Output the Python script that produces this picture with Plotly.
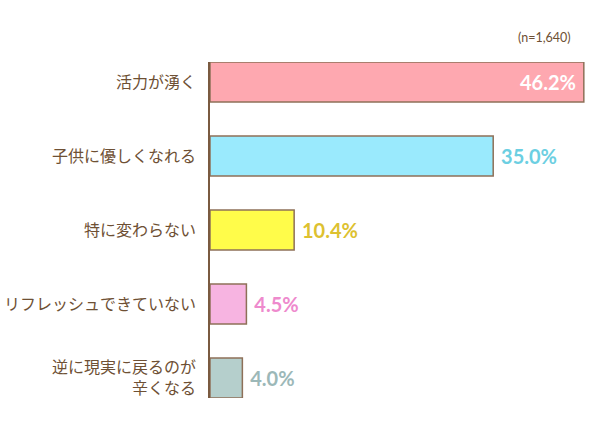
import plotly.graph_objects as go

categories = ["活力が湧く", "子供に優しくなれる", "特に変わらない", "リフレッシュできていない", "逆に現実に戻るのが<br>辛くなる"]
values = [46.2, 35.0, 10.4, 4.5, 4.0]
value_labels = ["46.2%", "35.0%", "10.4%", "4.5%", "4.0%"]
bar_colors = ["#fea8b0", "#9aeafd", "#fffc4a", "#f7b4e1", "#b5cfcc"]
label_colors = ["#ffffff", "#6ccfe2", "#ddc130", "#ee8acd", "#9cb8b8"]
label_pos = ["inside", "outside", "outside", "outside", "outside"]
note = "(n=1,640)"

brown = "#6e5034"
templates = ["%{text}\u00a0" if p == "inside" else "\u00a0%{text}" for p in label_pos]

fig = go.Figure()
fig.add_trace(go.Bar(
    x=values, y=categories, orientation="h",
    marker=dict(color=bar_colors, line=dict(color="#8e7058", width=1.5)),
    width=0.54,
    text=value_labels, texttemplate=templates, textposition=label_pos,
    insidetextanchor="end",
    textfont=dict(family="Lato, sans-serif", size=20, color=label_colors, weight="bold"),
    cliponaxis=False, hoverinfo="skip",
))
fig.update_layout(
    width=600, height=447,
    margin=dict(l=210, r=0, t=62, b=49, autoexpand=False),
    plot_bgcolor="white", paper_bgcolor="white",
    showlegend=False,
    xaxis=dict(range=[0, 48.2], visible=False, fixedrange=True, automargin=False),
    yaxis=dict(autorange=False, range=[4.27, -0.27], showline=True, linecolor="#7a5a40", linewidth=1.5,
               showgrid=False, ticks="", ticklabelstandoff=9, automargin=False, fixedrange=True,
               tickfont=dict(family="Noto Sans CJK JP, sans-serif", size=16, color=brown)),
    annotations=[dict(text=note, xref="paper", yref="paper", x=0.93, y=1.0, yshift=25,
                      xanchor="right", yanchor="middle", showarrow=False,
                      font=dict(family="Lato, sans-serif", size=12.5, color=brown))],
)
fig.write_html("out.html", config={"displayModeBar": False},
               post_script="document.body.style.margin='0';")
